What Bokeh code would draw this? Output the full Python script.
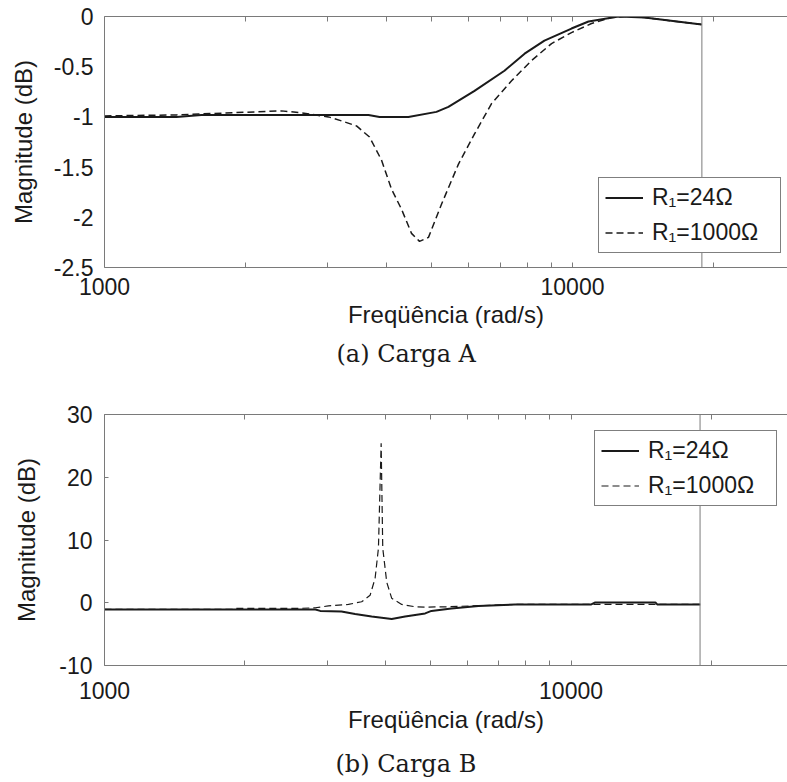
from bokeh.plotting import figure
from bokeh.layouts import column
from bokeh.models import (Range1d, LogAxis, FixedTicker, PrintfTickFormatter,
                          Legend, LegendItem, Span, Title)
from bokeh.embed import file_html
from bokeh.resources import INLINE

# ---------------- data ----------------
# (a) Carga A
a_freq_24 = [1000, 1425, 1611, 3665, 3870, 4460, 5120, 5430, 6175, 7155, 7900,
             8710, 9950, 10820, 12540, 14250, 18870]
a_db_24 = [-1.0, -1.0, -0.98, -0.98, -1.0, -1.0, -0.95, -0.9, -0.74, -0.54, -0.37,
           -0.24, -0.12, -0.05, 0.0, -0.01, -0.08]

a_freq_1000 = [1000, 1425, 1611, 2113, 2390, 2640, 3010, 3210, 3455, 3684, 3907,
               4105, 4312, 4529, 4711, 4923, 5249, 5706, 6175, 6710, 7410, 8170,
               9020, 9950, 10980, 12110, 12920, 14250, 18870]
a_db_1000 = [-0.99, -0.98, -0.97, -0.95, -0.94, -0.96, -1.0, -1.04, -1.09, -1.2, -1.43,
             -1.72, -1.92, -2.16, -2.24, -2.2, -1.87, -1.47, -1.17, -0.87, -0.64, -0.44,
             -0.27, -0.16, -0.07, -0.01, 0.0, -0.01, -0.08]

# (b) Carga B
b_freq_24 = [1000, 2832, 2900, 3220, 3444, 3738, 4127, 4409, 4867, 5020, 5540,
             6330, 7586, 11050, 11270, 15160, 15300, 18920]
b_db_24 = [-1.07, -1.07, -1.3, -1.4, -1.8, -2.2, -2.6, -2.2, -1.7, -1.3, -0.9,
           -0.53, -0.27, -0.27, 0.05, 0.05, -0.27, -0.27]

b_freq_1000 = [1000, 1871, 1900, 2604, 2832, 3020, 3333, 3558, 3709, 3802, 3865,
               3917, 3948, 4026, 4127, 4335, 4632, 4867, 5460, 6115, 7586, 18920]
b_db_1000 = [-1.07, -1.07, -0.9, -0.9, -0.8, -0.5, -0.27, 0.16, 1.2, 3.9, 8.7,
             25.4, 8.7, 3.3, 0.7, -0.27, -0.64, -0.7, -0.64, -0.5, -0.27, -0.27]

x_major_ticks = [1000, 10000]
x_minor_ticks = [2000, 3000, 4000, 5000, 6000, 7000, 8000, 9000, 20000]
a_y_ticks = [0, -0.5, -1, -1.5, -2, -2.5]
b_y_ticks = [30, 20, 10, 0, -10]
ref_freq = 18900  # vertical reference line

legend_labels = ["R\u2081=24\u03a9", "R\u2081=1000\u03a9"]
x_label = "Freqüência (rad/s)"
y_label = "Magnitude (dB)"
captions = ["(a) Carga A", "(b) Carga B"]

# ---------------- style ----------------
SANS = "Liberation Sans"
SERIF = "DejaVu Serif"
INK = "#1a1a1a"
AXC = "#7a7a7a"


def make_panel(f24, d24, f1000, d1000, x_end, y_range, y_ticks, caption,
               legend_loc, top, bottom, y_tick_len, ytick_standoff,
               ylab_standoff, tick_standoff, xlab_standoff, cap_standoff,
               cap_offset, dash_width):
    p = figure(x_axis_type="log", x_range=Range1d(1000, x_end),
               y_range=Range1d(*y_range), frame_width=683, frame_height=251,
               min_border_left=104, min_border_right=0, min_border_top=top,
               min_border_bottom=bottom, toolbar_location=None,
               output_backend="svg")
    p.outline_line_color = None
    p.xgrid.visible = False
    p.ygrid.visible = False
    p.background_fill_color = "white"
    p.border_fill_color = "white"

    xa = p.xaxis[0]
    xa.ticker = FixedTicker(ticks=x_major_ticks, minor_ticks=x_minor_ticks)
    xa.formatter = PrintfTickFormatter(format="%d")
    xa.axis_line_color = AXC
    xa.major_tick_line_color = AXC
    xa.minor_tick_line_color = AXC
    xa.major_tick_in = 5
    xa.major_tick_out = 0
    xa.minor_tick_in = 5
    xa.minor_tick_out = 0
    xa.major_label_text_font = SANS
    xa.major_label_text_font_size = "23px"
    xa.major_label_text_color = INK
    xa.major_label_standoff = tick_standoff
    xa.axis_label = x_label
    xa.axis_label_text_font = SANS
    xa.axis_label_text_font_size = "24px"
    xa.axis_label_text_font_style = "normal"
    xa.axis_label_text_color = INK
    xa.axis_label_standoff = xlab_standoff

    ta = LogAxis(ticker=FixedTicker(ticks=x_major_ticks, minor_ticks=x_minor_ticks),
                 formatter=PrintfTickFormatter(format="%d"),
                 major_label_text_font_size="1px", major_label_text_color=None,
                 major_label_standoff=0,
                 axis_line_color=AXC, major_tick_line_color=AXC,
                 minor_tick_line_color=AXC, major_tick_in=5, major_tick_out=0,
                 minor_tick_in=5, minor_tick_out=0)
    p.add_layout(ta, "above")

    ya = p.yaxis[0]
    ya.ticker = FixedTicker(ticks=y_ticks)
    ya.formatter = PrintfTickFormatter(format="%g")
    ya.minor_tick_line_color = None
    ya.axis_line_color = AXC
    ya.major_tick_line_color = AXC
    ya.major_tick_in = y_tick_len
    ya.major_tick_out = 0
    ya.major_label_text_font = SANS
    ya.major_label_text_font_size = "23px"
    ya.major_label_text_color = INK
    ya.major_label_standoff = ytick_standoff
    ya.axis_label = y_label
    ya.axis_label_text_font = SANS
    ya.axis_label_text_font_size = "24px"
    ya.axis_label_text_font_style = "normal"
    ya.axis_label_text_color = INK
    ya.axis_label_standoff = ylab_standoff

    r1 = p.line(f24, d24, line_color=INK, line_width=2)
    r2 = p.line(f1000, d1000, line_color=INK, line_width=dash_width,
                line_dash="7 4")

    span = Span(location=ref_freq, dimension="height", line_color=AXC,
                line_width=1)
    p.add_layout(span)

    legend = Legend(items=[LegendItem(label=legend_labels[0], renderers=[r1]),
                           LegendItem(label=legend_labels[1], renderers=[r2])],
                    location=legend_loc, margin=0, padding=6, spacing=8,
                    glyph_width=38, glyph_height=27, label_height=27,
                    label_width=122, label_standoff=9,
                    label_text_font=SANS, label_text_font_size="23px",
                    label_text_color=INK, border_line_color="black",
                    border_line_width=1, background_fill_color="white",
                    background_fill_alpha=1.0)
    p.add_layout(legend)

    cap = Title(text=caption, align="left", offset=cap_offset, text_font=SERIF,
                text_font_size="24px", text_font_style="normal",
                text_color=INK, standoff=cap_standoff)
    p.add_layout(cap, "below")
    return p


p1 = make_panel(a_freq_24, a_db_24, a_freq_1000, a_db_1000, 28800, (-2.5, 0),
                a_y_ticks, captions[0], (494, 14), top=16, bottom=136,
                y_tick_len=0, ytick_standoff=11, ylab_standoff=14,
                tick_standoff=10, xlab_standoff=3, cap_standoff=14,
                cap_offset=232, dash_width=1.5)
p2 = make_panel(b_freq_24, b_db_24, b_freq_1000, b_db_1000, 29100, (-10, 30),
                b_y_ticks, captions[1], (490, 159), top=11, bottom=117,
                y_tick_len=4, ytick_standoff=12, ylab_standoff=16,
                tick_standoff=16, xlab_standoff=4, cap_standoff=25,
                cap_offset=231, dash_width=1.2)

layout = column(p1, p2, spacing=0)
open("out.html", "w").write(file_html(layout, INLINE))
